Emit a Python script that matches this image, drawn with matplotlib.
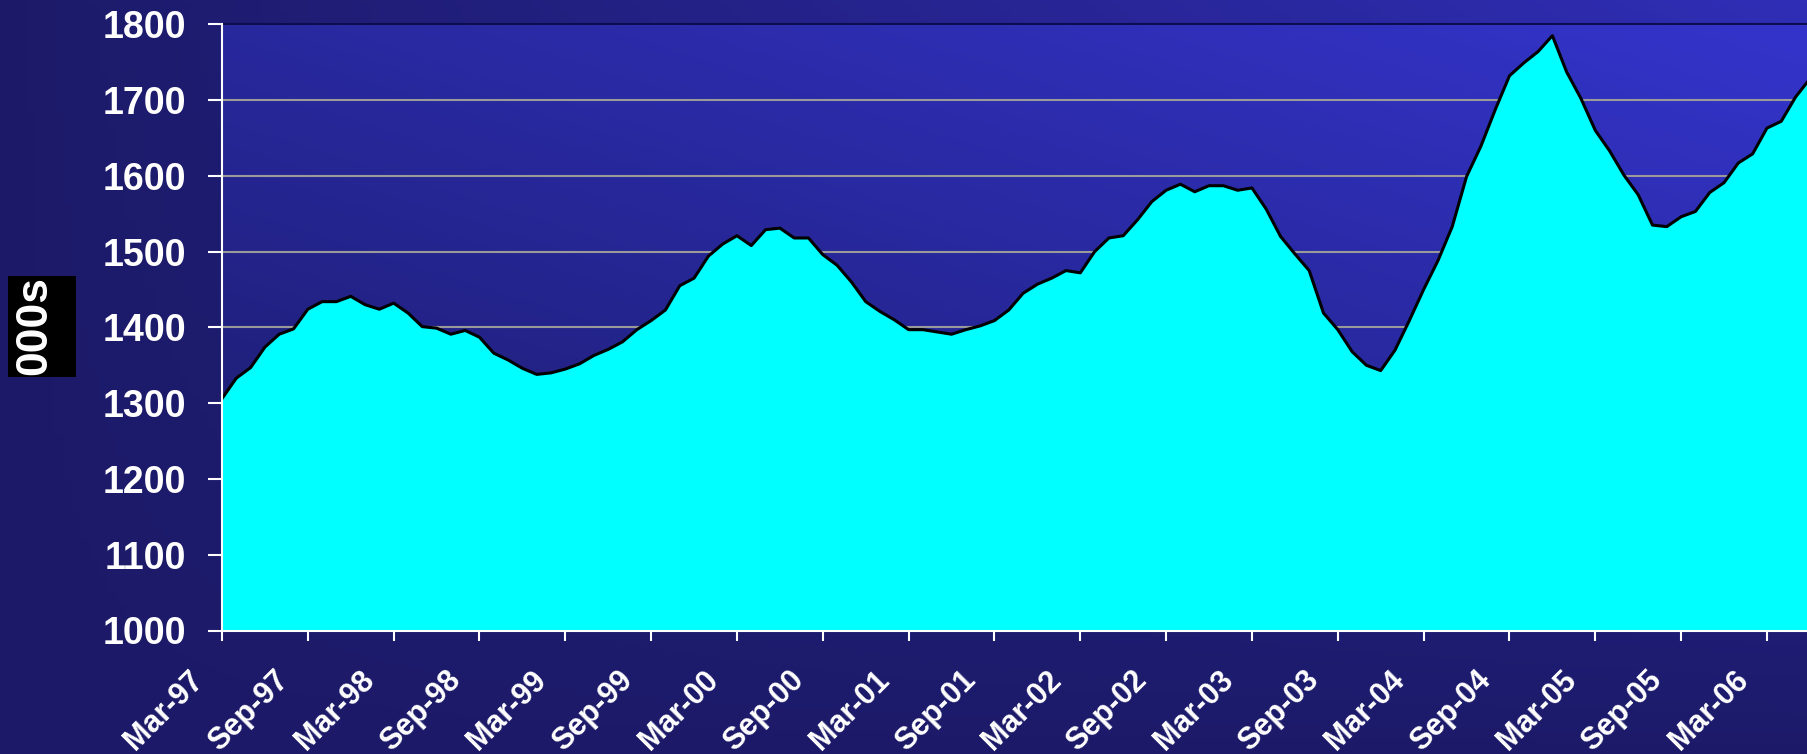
import numpy as np
import matplotlib

matplotlib.use("Agg")
import matplotlib.pyplot as plt
from matplotlib.patches import Rectangle
from matplotlib.transforms import ScaledTranslation

# monthly values, Mar-97 .. Jun-06 (thousands)
values = [
    1306, 1333, 1347, 1374, 1391, 1398, 1424, 1434, 1434, 1441, 1430, 1424,
    1432, 1419, 1401, 1399, 1391, 1396, 1387, 1366, 1357, 1346, 1338, 1340,
    1345, 1352, 1363, 1371, 1381, 1397, 1409, 1423, 1455, 1465, 1494, 1510,
    1521, 1508, 1529, 1531, 1518, 1518, 1496, 1482, 1460, 1434, 1421, 1410,
    1397, 1397, 1394, 1391, 1397, 1402, 1409, 1423, 1445, 1457, 1465, 1475,
    1472, 1500, 1518, 1521, 1542, 1566, 1581, 1589, 1579, 1587, 1587, 1581,
    1584, 1556, 1520, 1497, 1475, 1419, 1397, 1368, 1350, 1343, 1370, 1409,
    1450, 1488, 1533, 1599, 1639, 1687, 1732, 1749, 1764, 1785, 1737, 1702,
    1660, 1633, 1601, 1575, 1535, 1533, 1546, 1553, 1578, 1591, 1617, 1629,
    1663, 1672, 1704, 1728,
]
tick_labels = [
    "Mar-97", "Sep-97", "Mar-98", "Sep-98", "Mar-99", "Sep-99", "Mar-00",
    "Sep-00", "Mar-01", "Sep-01", "Mar-02", "Sep-02", "Mar-03", "Sep-03",
    "Mar-04", "Sep-04", "Mar-05", "Sep-05", "Mar-06",
]
y_ticks = [1000, 1100, 1200, 1300, 1400, 1500, 1600, 1700, 1800]

plt.rcParams["font.family"] = ["Liberation Sans", "DejaVu Sans"]


def gradient(c0, c1, mode="linear", n=200):
    xx, yy = np.meshgrid(np.linspace(0, 1, n), np.linspace(1, 0, n))
    if mode == "corner":
        t = xx * yy
    else:
        t = 0.45 * xx + 0.55 * yy
    t = t[..., None]
    c0 = np.array(matplotlib.colors.to_rgb(c0))
    c1 = np.array(matplotlib.colors.to_rgb(c1))
    return c0 * (1 - t) + c1 * t


fig = plt.figure(figsize=(18.07, 7.54), dpi=100)

bg = fig.add_axes([0, 0, 1, 1], zorder=-10)
bg.imshow(gradient("#1c1a68", "#302eb6", mode="corner"), aspect="auto",
          extent=[0, 1, 0, 1])
bg.axis("off")

ax = fig.add_axes([222 / 1807, 1 - 630.5 / 754, 1 - 222 / 1807, (630.5 - 24.3) / 754])
ax.imshow(gradient("#1a1a66", "#3434cc"), aspect="auto", extent=[0, 1, 0, 1],
          transform=ax.transAxes, zorder=0)

x = np.arange(len(values))
ax.fill_between(x, 1000, values, color="#00ffff", zorder=3, linewidth=0)
ax.plot(x, values, color="black", linewidth=2.2, zorder=4)

ax.set_xlim(0, 110.8)
ax.set_ylim(1000, 1800)
ax.set_yticks(y_ticks)
ax.set_yticklabels([str(v) for v in y_ticks], fontsize=27, fontweight="bold", color="white")
ax.set_xticks(np.arange(0, 6 * len(tick_labels), 6))
ax.set_xticklabels(tick_labels, fontsize=22, fontweight="bold",
                   color="white", rotation=45, ha="right", va="top",
                   rotation_mode="anchor")
ax.tick_params(axis="y", length=10, width=1.5, color="white", direction="out", pad=16)
ax.tick_params(axis="x", length=7.5, width=1.5, color="white", direction="out", pad=0)
shift = ScaledTranslation(-0.34, -0.24, fig.dpi_scale_trans)
for lab in ax.get_xticklabels():
    lab.set_transform(lab.get_transform() + shift)
ax.grid(axis="y", color="#9a9a9a", linewidth=1.5, zorder=1)
ax.set_axisbelow(True)

for side in ["left", "bottom"]:
    ax.spines[side].set_color("white")
    ax.spines[side].set_linewidth(1.5)
    ax.spines[side].set_zorder(5)
ax.spines["top"].set_color("#0c0c50")
ax.spines["top"].set_linewidth(1.5)
ax.spines["right"].set_visible(False)

fig.patches.append(Rectangle((8.4 / 1807, 1 - 377 / 754), 67.4 / 1807, 101 / 754,
                             transform=fig.transFigure, facecolor="black",
                             edgecolor="none", zorder=1))
fig.text(35 / 1807, 1 - 326 / 754, "000s", rotation=90, fontsize=32, fontweight="bold",
         color="white", ha="center", va="center", zorder=2)

fig.savefig("out.png", dpi=100)
